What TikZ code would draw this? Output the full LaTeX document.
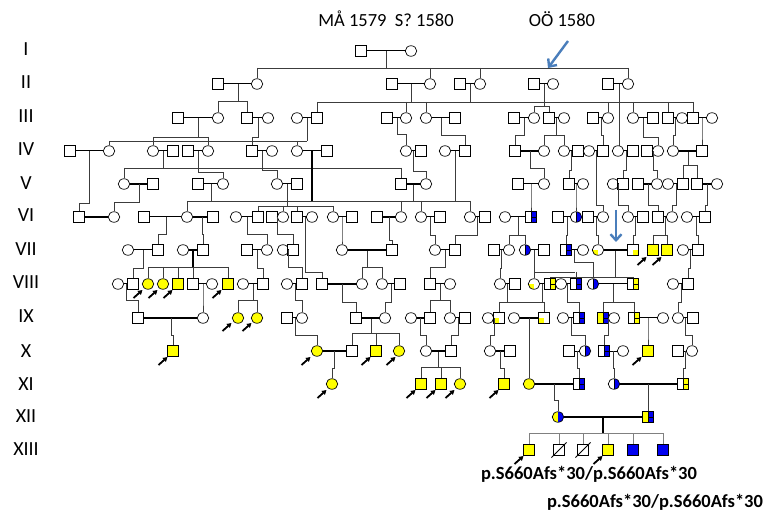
\documentclass[tikz,border=0pt]{standalone}
\usepackage{fontspec}
\setmainfont{Carlito}
\usetikzlibrary{shapes.geometric,arrows.meta,calc}
\definecolor{yel}{RGB}{255,255,0}
\definecolor{blu}{RGB}{0,0,240}
\definecolor{arrblue}{RGB}{74,126,187}
\definecolor{dline}{RGB}{60,60,60}
\tikzset{
  sq/.style={draw=black, line width=0.7pt, fill=white, rectangle, minimum size=10.5pt, inner sep=0pt},
  ci/.style={draw=black, line width=0.7pt, fill=white, ellipse, minimum width=11.5pt, minimum height=10.5pt, inner sep=0pt},
  yf/.style={fill=yel}, bf/.style={fill=blu},
  rhalf/.style={path picture={\fill[#1] (path picture bounding box.north) rectangle (path picture bounding box.south east);
      \draw[line width=0.5pt] (path picture bounding box.north) -- (path picture bounding box.south);}},
  rdiv/.style={path picture={\fill[#1] (path picture bounding box.north) rectangle (path picture bounding box.south east);
      \draw[line width=0.6pt] (path picture bounding box.north) -- (path picture bounding box.south)
        (path picture bounding box.center) -- (path picture bounding box.east);}},
  qll/.style={path picture={\fill[#1] (path picture bounding box.center) rectangle (path picture bounding box.south west);}},
  qlr/.style={path picture={\fill[#1] (path picture bounding box.center) rectangle (path picture bounding box.south east);}},
  ybc/.style={path picture={\fill[yel] (path picture bounding box.north west) rectangle (path picture bounding box.south);
      \fill[blu] (path picture bounding box.north) rectangle (path picture bounding box.south east);}},
  ybs/.style={path picture={\fill[yel] (path picture bounding box.north west) rectangle (path picture bounding box.south);
      \fill[blu] (path picture bounding box.north) rectangle (path picture bounding box.south east);
      \draw[line width=0.6pt] (path picture bounding box.north) -- (path picture bounding box.south)
        (path picture bounding box.center) -- (path picture bounding box.east);}},
  ml/.style={draw=black, line width=1pt},
  tml/.style={draw=black, line width=2.6pt},
  dl/.style={draw=dline, line width=0.9pt},
  tdl/.style={draw=black, line width=2.2pt},
  blk/.style={draw=black, line width=1.8pt, -{Triangle[length=4.5pt,width=5pt]}},
  barr/.style={draw=arrblue, line width=2.4pt, -{Straight Barb[length=6pt,width=11pt]}},
  gen/.style={font=\fontsize{20}{22}\selectfont, anchor=base},
  ttl/.style={font=\fontsize{18.5}{20}\selectfont, anchor=base},
  mut/.style={font=\fontsize{18.5}{20}\selectfont\bfseries, anchor=base}
}
\newcommand\mar[2]{\draw[ml] (#1) -- (#2);}
\newcommand\tmar[2]{\draw[tml] (#1) -- (#2);}
\newcommand\dsc[4]{\draw[dl] (#1,#2) -- (#1,#3) -| (#4.north);}
\newcommand\kid[2]{\draw[dl] (#2.north |- 0,#1) -- (#2.north);}
\newcommand\hl[3]{\draw[dl] (#1,#3) -- (#2,#3);}
\newcommand\vl[3]{\draw[dl] (#1,#2) -- (#1,#3);}
\newcommand\arr[2]{\draw[blk] (#1-4.5,#2+4) -- (#1+4.5,#2-4);}
\begin{document}
\begin{tikzpicture}[x=1pt,y=-1pt]
\useasboundingbox (0,0) rectangle (769,513);
\fill[white] (0,0) rectangle (769,513);

% ---------- texts
\node[ttl] (t1) at (386,27) {MÅ 1579\ \ S? 1580};
\node[ttl] (t2) at (562,27) {OÖ 1580};
\node[gen] (g1) at (26,56) {I};
\node[gen] (g2) at (26,89) {II};
\node[gen] (g3) at (26,123) {III};
\node[gen] (g4) at (26,156) {IV};
\node[gen] (g5) at (26,190) {V};
\node[gen] (g6) at (26,222) {VI};
\node[gen] (g7) at (26,256) {VII};
\node[gen] (g8) at (26,289) {VIII};
\node[gen] (g9) at (26,323) {IX};
\node[gen] (g10) at (26,357) {X};
\node[gen] (g11) at (26,390) {XI};
\node[gen] (g12) at (26,422) {XII};
\node[gen] (g13) at (26,455) {XIII};
\node[mut] (m1) at (589,479) {p.S660Afs*30/p.S660Afs*30};
\node[mut] (m2) at (655,507) {p.S660Afs*30/p.S660Afs*30};

% ---------- lines first (drawn under symbols)
% I
\hl{258}{628}{68}
\vl{386}{51}{68}
% II
\vl{238}{84}{101} \hl{218}{248}{101}
\vl{411}{84}{102} \vl{470}{84}{102} \hl{317}{693}{102}
\vl{544}{84}{106} \hl{534}{549}{106}
\vl{619}{84}{146}
% III
\vl{198}{118}{137} \hl{154}{208}{137}
\vl{307}{118}{141} \hl{109}{307}{141}
\vl{556}{118}{135} \hl{544}{564}{135}
% IV
\vl{163}{151}{168} \hl{124}{401}{168}
\draw[tdl] (312,151) -- (312,201);
\vl{455}{151}{201}
\vl{688}{151}{165} \hl{683}{697}{165}
% V
\vl{211}{184}{201} \hl{188}{470}{201}
\vl{287}{184}{206} \hl{258}{333}{206}
\vl{413}{184}{201}
% VI
\vl{518}{217}{235} \hl{509}{525}{235}
\vl{665}{217}{235} \hl{653}{667}{235}
% VII
\draw[tdl] (193,250) -- (193,267); \hl{148}{228}{267}
\vl{367}{250}{267} \hl{362}{382}{267}
\vl{534}{250}{272} \hl{534}{575}{272}
\vl{615}{250}{277} \hl{551}{633}{277}
% VIII
\vl{253}{284}{300} \hl{238}{257}{300}
\vl{440}{284}{300} \hl{430}{450}{300}
\vl{507}{284}{302} \vl{542}{284}{302} \hl{499}{544}{302}
\vl{613}{284}{302} \hl{603}{634}{302}
% IX
\vl{371}{318}{333} \hl{352}{399}{333}
% X
\vl{438}{351}{367} \hl{421}{460}{367}
% XII
\draw[tdl] (603,417) -- (603,433); \draw[draw=gray, line width=0.9pt] (529,433) -- (663,433);

% ---------- symbols
% Row I
\node[sq] (A1) at (361,51) {};
\node[ci] (A2) at (411,51) {};
% Row II
\node[sq] (B1) at (218,84) {}; \node[ci] (B2) at (257,84) {};
\node[sq] (B3) at (392,84) {}; \node[ci] (B4) at (430,84) {};
\node[sq] (B5) at (460,84) {}; \node[ci] (B6) at (480,84) {};
\node[sq] (B7) at (534,84) {}; \node[ci] (B8) at (553,84) {};
\node[sq] (B9) at (608,84) {}; \node[ci] (B10) at (628,84) {};
% Row III
\node[sq] (C1) at (178,118) {}; \node[ci] (C2) at (218,118) {};
\node[sq] (C3) at (247,118) {}; \node[ci] (C4) at (268,118) {};
\node[ci] (C5) at (297,118) {}; \node[sq] (C6) at (317,118) {};
\node[sq] (C7) at (387,118) {}; \node[ci] (C8) at (406,118) {};
\node[ci] (C9) at (426,118) {}; \node[sq] (C10) at (455,118) {};
\node[sq] (C11) at (514,118) {}; \node[ci] (C12) at (534,118) {};
\node[sq] (C13) at (549,118) {}; \node[ci] (C14) at (564,118) {};
\node[sq] (C15) at (593,118) {}; \node[ci] (C16) at (608,118) {};
\node[ci] (C17) at (633,118) {}; \node[sq] (C18) at (653,118) {};
\node[sq] (C19) at (668,118) {}; \node[ci] (C20) at (682,118) {};
\node[sq] (C21) at (693,118) {}; \node[ci] (C22) at (712,118) {};
% Row IV
\node[sq] (D1) at (70,151) {}; \node[ci] (D2) at (109,151) {};
\node[ci] (D3) at (153,151) {}; \node[sq] (D4) at (173,151) {};
\node[sq] (D5) at (188,151) {}; \node[ci] (D6) at (208,151) {};
\node[sq] (D7) at (252,151) {}; \node[ci] (D8) at (272,151) {};
\node[ci] (D9) at (297,151) {}; \node[sq] (D10) at (327,151) {};
\node[ci] (D11) at (406,151) {}; \node[sq] (D12) at (421,151) {};
\node[ci] (D13) at (445,151) {}; \node[sq] (D14) at (465,151) {};
\node[sq] (D15) at (515,151) {}; \node[ci] (D16) at (544,151) {};
\node[ci] (D17) at (564,151) {}; \node[sq] (D18) at (578,151) {};
\node[ci] (D19) at (589,151) {}; \node[sq] (D20) at (603,151) {};
\node[ci] (D21) at (618,151) {}; \node[sq] (D22) at (633,151) {};
\node[sq] (D23) at (647,151) {}; \node[ci] (D24) at (658,151) {};
\node[ci] (D25) at (673,151) {}; \node[sq] (D26) at (702,151) {};
% Row V
\node[ci] (E1) at (124,184) {}; \node[sq] (E2) at (153,184) {};
\node[sq] (E3) at (198,184) {}; \node[ci] (E4) at (223,184) {};
\node[ci] (E5) at (277,184) {}; \node[sq] (E6) at (297,184) {};
\node[sq] (E7) at (401,184) {}; \node[ci] (E8) at (426,184) {};
\node[sq] (E9) at (518,184) {}; \node[ci] (E10) at (544,184) {};
\node[sq] (E11) at (569,184) {}; \node[ci] (E12) at (583,184) {};
\node[ci] (E13) at (613,184) {}; \node[sq] (E14) at (623,184) {};
\node[sq] (E15) at (638,184) {}; \node[ci] (E16) at (657,184) {};
\node[ci] (E17) at (668,184) {}; \node[sq] (E18) at (683,184) {};
\node[sq] (E19) at (697,184) {}; \node[ci] (E20) at (717,184) {};
% Row VI
\node[sq] (F1) at (79,217) {}; \node[ci] (F2) at (114,217) {};
\node[sq] (F3) at (144,217) {}; \node[ci] (F4) at (187,217) {};
\node[sq] (F5) at (213,217) {}; \node[ci] (F6) at (236,217) {};
\node[sq] (F7) at (258,217) {}; \node[sq] (F8) at (272,217) {};
\node[ci] (F9) at (283,217) {}; \node[sq] (F10) at (297,217) {};
\node[ci] (F11) at (312,217) {}; \node[ci] (F12) at (333,217) {};
\node[sq] (F13) at (352,217) {}; \node[sq] (F14) at (377,217) {};
\node[ci] (F15) at (401,217) {}; \node[ci] (F16) at (421,217) {};
\node[sq] (F17) at (440,217) {}; \node[ci] (F18) at (470,217) {};
\node[sq] (F19) at (485,217) {}; \node[ci] (F20) at (505,217) {};
\node[sq, rdiv=blu] (F21) at (531,217) {}; \node[sq] (F22) at (558,217) {};
\node[ci, rhalf=blu] (F23) at (576,217) {}; \node[sq] (F24) at (588,217) {};
\node[ci] (F25) at (603,217) {}; \node[ci] (F26) at (628,217) {};
\node[sq] (F27) at (643,217) {}; \node[sq] (F28) at (658,217) {};
\node[ci] (F29) at (672,217) {}; \node[ci] (F30) at (687,217) {};
\node[sq] (F31) at (705,217) {};
% Row VII
\node[ci] (G1) at (128,250) {}; \node[sq] (G2) at (158,250) {};
\node[ci] (G3) at (183,250) {}; \node[sq] (G4) at (203,250) {};
\node[sq] (G5) at (247,250) {}; \node[ci] (G6) at (267,250) {};
\node[ci] (G7) at (283,250) {}; \node[sq] (G8) at (293,250) {};
\node[ci] (G9) at (342,250) {}; \node[sq] (G10) at (392,250) {};
\node[ci] (G11) at (435,250) {}; \node[sq] (G12) at (455,250) {};
\node[sq] (G13) at (494,250) {}; \node[ci] (G14) at (509,250) {};
\node[ci, rhalf=blu] (G15) at (525,250) {}; \node[sq] (G16) at (544,250) {};
\node[sq, rdiv=blu] (G17) at (566,250) {}; \node[ci] (G18) at (583,250) {};
\node[ci, qll=yel] (G19) at (598,250) {}; \node[sq, qlr=yel] (G20) at (633,250) {};
\node[sq, yf] (G21) at (653,250) {}; \node[sq, yf] (G22) at (667,250) {};
\node[ci] (G23) at (683,250) {}; \node[sq] (G24) at (698,250) {};
% Row VIII
\node[ci] (H1) at (118,284) {}; \node[sq] (H2) at (133,284) {};
\node[ci, yf] (H3) at (148,284) {}; \node[ci, yf] (H4) at (163,284) {};
\node[sq, yf] (H5) at (178,284) {}; \node[sq] (H6) at (193,284) {};
\node[ci] (H7) at (212,284) {}; \node[sq, yf] (H8) at (228,284) {};
\node[ci] (H9) at (243,284) {}; \node[sq] (H10) at (263,284) {};
\node[ci] (H11) at (287,284) {}; \node[sq] (H12) at (302,284) {};
\node[sq] (H13) at (322,284) {}; \node[ci] (H14) at (362,284) {};
\node[ci] (H15) at (382,284) {}; \node[sq] (H16) at (400,284) {};
\node[sq] (H17) at (430,284) {}; \node[ci] (H18) at (450,284) {};
\node[ci] (H19) at (500,284) {}; \node[sq] (H20) at (515,284) {};
\node[ci, qll=yel] (H21) at (534,284) {}; \node[sq, rdiv=yel] (H22) at (550,284) {};
\node[ci] (H23) at (561,284) {}; \node[sq, rdiv=blu] (H24) at (576,284) {};
\node[ci, rhalf=blu] (H25) at (593,284) {}; \node[sq, rdiv=yel] (H26) at (633,284) {};
\node[ci] (H27) at (673,284) {}; \node[sq] (H28) at (688,284) {};
% Row IX
\node[sq] (I1) at (138,318) {}; \node[ci] (I2) at (203,318) {};
\node[ci, yf] (I3) at (238,318) {}; \node[ci, yf] (I4) at (257,318) {};
\node[sq] (I5) at (287,318) {}; \node[ci] (I6) at (302,318) {};
\node[sq] (I7) at (356,318) {}; \node[ci] (I8) at (385,318) {};
\node[ci] (I9) at (411,318) {}; \node[sq] (I10) at (430,318) {};
\node[ci] (I11) at (450,318) {}; \node[sq] (I12) at (465,318) {};
\node[ci] (I13) at (488,318) {}; \node[sq, qll=yel] (I14) at (499,318) {};
\node[ci] (I15) at (514,318) {}; \node[sq, qll=yel] (I16) at (544,318) {};
\node[ci] (I17) at (563,318) {}; \node[sq, rdiv=blu] (I18) at (579,318) {};
\node[sq, ybs] (I19) at (603,318) {}; \node[ci] (I20) at (614,318) {};
\node[sq, rdiv=yel] (I21) at (634,318) {}; \node[ci] (I22) at (663,318) {};
\node[ci] (I23) at (678,318) {}; \node[sq] (I24) at (693,318) {};
% Row X
\node[sq, yf] (J1) at (173,351) {};
\node[ci, yf] (J2) at (317,351) {}; \node[sq] (J3) at (352,351) {};
\node[sq, yf] (J4) at (376,351) {}; \node[ci, yf] (J5) at (399,351) {};
\node[ci] (J6) at (426,351) {}; \node[sq] (J7) at (451,351) {};
\node[ci] (J8) at (490,351) {}; \node[sq] (J9) at (510,351) {};
\node[sq] (J10) at (569,351) {}; \node[ci, rhalf=blu] (J11) at (585,351) {};
\node[sq, rdiv=blu] (J12) at (604,351) {}; \node[ci] (J13) at (623,351) {};
\node[sq, yf] (J14) at (648,351) {};
\node[sq] (J15) at (678,351) {}; \node[ci] (J16) at (692,351) {};
% Row XI
\node[ci, yf] (K1) at (332,384) {};
\node[sq, yf] (K2) at (421,384) {}; \node[sq, yf] (K3) at (441,384) {};
\node[ci, yf] (K4) at (460,384) {}; \node[sq, yf] (K5) at (504,384) {};
\node[ci, yf] (K6) at (529,384) {}; \node[sq, rdiv=blu] (K7) at (579,384) {};
\node[ci, rhalf=blu] (K8) at (614,384) {}; \node[sq, rdiv=yel] (K9) at (683,384) {};
% Row XII
\node[ci, ybc] (L1) at (558,417) {}; \node[sq, ybs] (L2) at (648,417) {};
% Row XIII
\node[sq, yf] (M1) at (529,450) {}; \node[sq] (M2) at (559,450) {};
\node[sq] (M3) at (583,450) {}; \node[sq, yf] (M4) at (608,450) {};
\node[sq, bf] (M5) at (633,450) {}; \node[sq, bf] (M6) at (663,450) {};
\draw[line width=0.8pt] ($(M2.south west)+(-2,2)$) -- ($(M2.north east)+(2,-2)$);
\draw[line width=0.8pt] ($(M3.south west)+(-2,2)$) -- ($(M3.north east)+(2,-2)$);

% ---------- marriages
\mar{A1}{A2}
\mar{B1}{B2} \mar{B3}{B4} \mar{B5}{B6} \mar{B7}{B8} \mar{B9}{B10}
\mar{C1}{C2} \mar{C3}{C4} \mar{C5}{C6} \mar{C7}{C8} \mar{C9}{C10} \mar{C11}{C12}
\mar{C13}{C14} \mar{C15}{C16} \mar{C17}{C18} \mar{C19}{C20} \mar{C21}{C22}
\mar{D1}{D2} \mar{D3}{D4} \mar{D5}{D6} \mar{D7}{D8} \mar{D9}{D10} \mar{D11}{D12}
\mar{D13}{D14} \tmar{D15}{D16} \mar{D17}{D18} \mar{D19}{D20} \mar{D21}{D22}
\mar{D23}{D24} \tmar{D25}{D26}
\tmar{E1}{E2} \mar{E3}{E4} \mar{E5}{E6} \tmar{E7}{E8} \mar{E9}{E10} \mar{E11}{E12}
\mar{E13}{E14} \tmar{E15}{E16} \mar{E17}{E18} \tmar{E19}{E20}
\tmar{F1}{F2} \mar{F3}{F4} \tmar{F4}{F5} \mar{F6}{F7} \mar{F8}{F9} \mar{F10}{F11}
\mar{F12}{F13} \tmar{F14}{F15} \mar{F16}{F17} \mar{F18}{F19} \mar{F20}{F21}
\mar{F22}{F23} \mar{F24}{F25} \mar{F26}{F27} \mar{F28}{F29} \mar{F30}{F31}
\mar{G1}{G2} \tmar{G3}{G4} \mar{G5}{G6} \mar{G7}{G8} \tmar{G9}{G10} \mar{G11}{G12}
\mar{G13}{G14} \mar{G15}{G16} \mar{G17}{G18} \tmar{G19}{G20} \mar{G23}{G24}
\mar{H1}{H2} \mar{H6}{H7} \mar{H9}{H10} \mar{H11}{H12} \tmar{H13}{H14} \mar{H15}{H16}
\mar{H17}{H18} \mar{H19}{H20} \mar{H21}{H22} \mar{H23}{H24} \mar{H25}{H26} \mar{H27}{H28}
\tmar{I1}{I2} \mar{I5}{I6} \tmar{I7}{I8} \tmar{I9}{I10} \mar{I11}{I12} \mar{I13}{I14}
\tmar{I15}{I16} \mar{I17}{I18} \mar{I19}{I20} \mar{I21}{I22} \mar{I23}{I24}
\tmar{J2}{J3} \tmar{J6}{J7} \tmar{J8}{J9} \mar{J10}{J11} \mar{J12}{J13} \mar{J15}{J16}
\tmar{K6}{K7} \tmar{K8}{K9}
\tmar{L1}{L2}

% ---------- descents to children
\kid{68}{B2} \kid{68}{B4} \kid{68}{B6} \kid{68}{B10}
\kid{101}{C2} \kid{101}{C3}
\kid{102}{C6} \kid{102}{C8} \kid{102}{C9} \kid{102}{C16} \kid{102}{C17} \kid{102}{C19} \kid{102}{C21}
\kid{106}{C12} \kid{106}{C13}
\kid{137}{D3} \kid{137}{D6}
\dsc{258}{118}{137}{D7}
\kid{141}{D2} \kid{141}{D9}
\dsc{397}{118}{134}{D11}
\dsc{441}{118}{135}{D14}
\dsc{524}{118}{135}{D15}
\kid{135}{D16} \kid{135}{D17}
\dsc{601}{118}{135}{D20}
\dsc{643}{118}{137}{D24}
\dsc{675}{118}{135}{D25}
\dsc{702}{118}{135}{D26}
\dsc{89}{151}{203}{F1}
\kid{168}{E1} \kid{168}{E7}
\dsc{198}{151}{172}{E4}
\dsc{262}{151}{170}{E5}
\dsc{413}{151}{171}{E8}
\dsc{530}{151}{168}{E10}
\dsc{571}{151}{170}{E11}
\dsc{596}{151}{205}{F25}
\dsc{626}{151}{170}{E14}
\dsc{653}{151}{170}{E16}
\kid{165}{E18} \kid{165}{E19}
\dsc{139}{184}{202}{F2}
\kid{201}{F4} \kid{201}{F15} \kid{201}{F16} \kid{201}{F18}
\kid{206}{F7} \kid{206}{F9} \kid{206}{F10} \kid{206}{F12}
\dsc{531}{184}{205}{F21}
\dsc{576}{184}{205}{F23}
\dsc{618}{184}{205}{F26}
\dsc{648}{184}{205}{F28}
\dsc{676}{184}{205}{F29}
\dsc{707}{184}{205}{F31}
\dsc{166}{217}{234}{G2}
\dsc{202}{217}{234}{G4}
\dsc{247}{217}{234}{G6}
\dsc{277}{217}{234}{G8}
\dsc{305}{217}{272}{H13}
\dsc{342}{217}{240}{G9}
\dsc{389}{217}{240}{G10}
\dsc{430}{217}{235}{G11}
\dsc{477}{217}{235}{G12}
\kid{235}{G14} \kid{235}{G15}
\dsc{567}{217}{235}{G17}
\dsc{596}{217}{235}{G19}
\dsc{635}{217}{235}{G20}
\kid{235}{G21} \kid{235}{G22}
\dsc{696}{217}{235}{G24}
\dsc{143}{250}{268}{H2}
\kid{267}{H3} \kid{267}{H4} \kid{267}{H5} \kid{267}{H6} \kid{267}{H8}
\dsc{257}{250}{268}{H10}
\dsc{288}{250}{267}{H12}
\kid{267}{H14} \kid{267}{H15}
\dsc{445}{250}{267}{H17}
\dsc{501}{250}{268}{H19}
\kid{272}{H21} \kid{272}{H24}
\dsc{574}{250}{262}{H25}
\kid{277}{H22} \kid{277}{H26}
\dsc{690}{250}{268}{H28}
\dsc{126}{284}{300}{I1}
\dsc{203}{284}{300}{I2}
\kid{300}{I3} \kid{300}{I4}
\dsc{295}{284}{300}{I6}
\dsc{342}{284}{302}{I7}
\dsc{391}{284}{302}{I8}
\kid{300}{I10} \kid{300}{I11}
\kid{302}{I14} \kid{302}{I16}
\dsc{567}{284}{302}{I18}
\kid{302}{I19} \kid{302}{I21}
\dsc{681}{284}{302}{I23}
\dsc{171}{318}{335}{J1}
\dsc{295}{318}{335}{J2}
\kid{333}{J3} \kid{333}{J4} \kid{333}{J5}
\dsc{420}{318}{335}{J6}
\dsc{458}{318}{335}{J7}
\dsc{494}{318}{335}{J8}
\draw[dl] (529,318) -- (K6.north);
\dsc{571}{318}{335}{J11}
\dsc{608}{318}{335}{J12}
\dsc{648}{318}{335}{J14}
\dsc{685}{318}{335}{J16}
\dsc{334}{351}{368}{K1}
\kid{367}{K2} \kid{367}{K3} \kid{367}{K4}
\dsc{500}{351}{368}{K5}
\dsc{577}{351}{368}{K7}
\dsc{613}{351}{368}{K8}
\dsc{685}{351}{368}{K9}
\dsc{554}{384}{400}{L1}
\draw[dl] (648,384) -- (L2.north);
\foreach \c in {M1,M2,M3,M4,M5,M6} {\draw[draw=gray, line width=0.9pt] (\c.north |- 0,433) -- (\c.north);}

% ---------- arrows
\coordinate (ba1s) at (568,41); \coordinate (ba1e) at (548,68);
\draw[barr] (ba1s) -- (ba1e);
\coordinate (ba2s) at (616,210); \coordinate (ba2e) at (616,242);
\draw[barr] (ba2s) -- (ba2e);
\arr{138}{294} \arr{153}{294} \arr{168}{294} \arr{217}{294}
\arr{642}{261} \arr{657}{261}
\arr{227}{327} \arr{247}{327}
\arr{163}{361} \arr{306}{361} \arr{366}{361} \arr{391}{361} \arr{637}{361}
\arr{322}{394} \arr{411}{394} \arr{431}{394} \arr{450}{394} \arr{494}{394}
\arr{519}{460} \arr{598}{460}
\end{tikzpicture}
\end{document}
